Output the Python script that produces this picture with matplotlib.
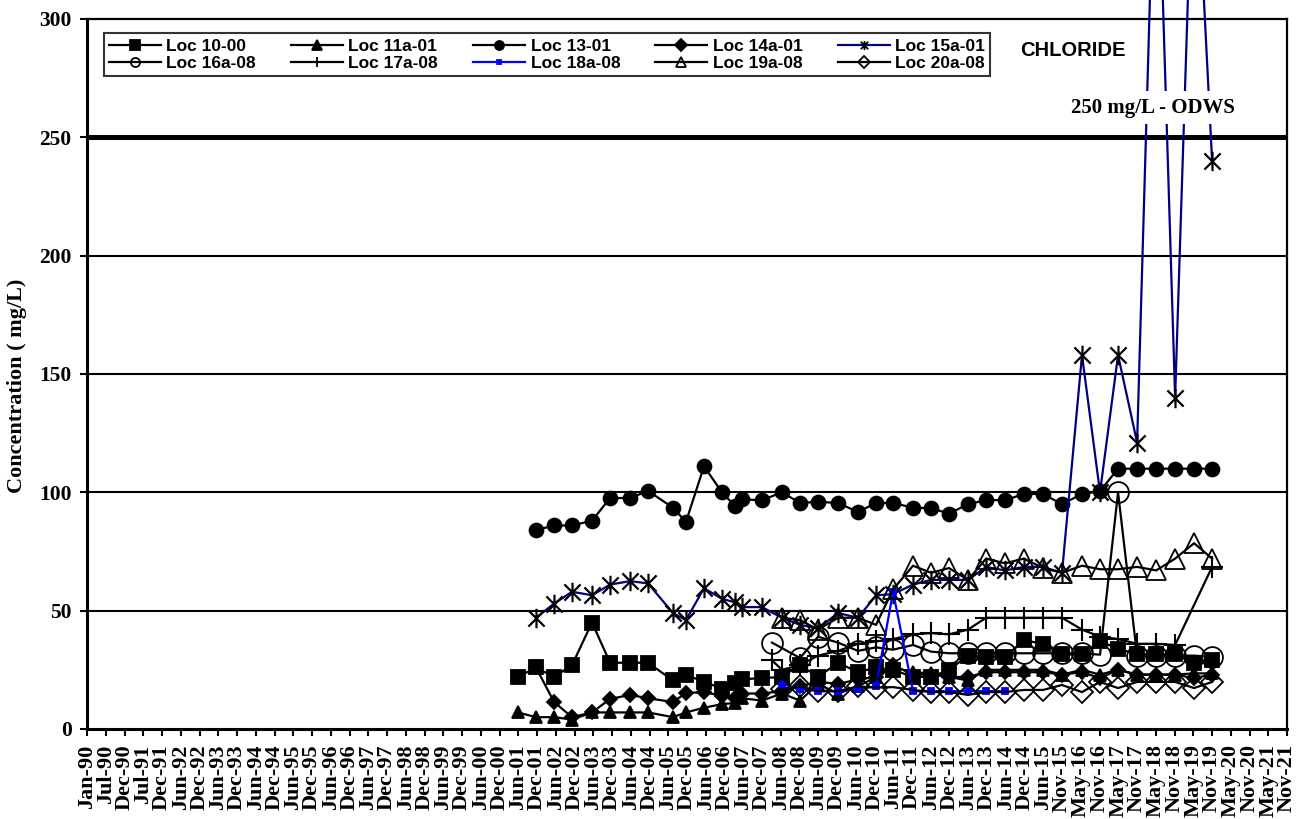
import matplotlib
matplotlib.use("Agg")
import matplotlib.pyplot as plt
import matplotlib.dates as mdates
from matplotlib.path import Path
import numpy as np
import pandas as pd

# sampling dates (shared by all wells; None = not sampled)
DATES = [
    "2001-06-15", "2001-12-07", "2002-06-01", "2002-11-22", "2003-06-04",
    "2003-11-26", "2004-06-07", "2004-11-29", "2005-07-29", "2005-12-02",
    "2006-05-26", "2006-11-17", "2007-03-23", "2007-05-30", "2007-12-10",
    "2008-03-16", "2008-06-21", "2008-12-13", "2009-06-06", "2009-12-17",
    "2010-06-29", "2010-12-21", "2011-06-04", "2011-12-15", "2012-06-07",
    "2012-11-28", "2013-06-01", "2013-11-23", "2014-05-26", "2014-11-26",
    "2015-05-30", "2015-11-30", "2016-06-11", "2016-12-03", "2017-05-27",
    "2017-11-28", "2018-06-01", "2018-12-02", "2019-06-04", "2019-11-26",
]
N = None
LOC_10_00 = [22, 26, 22, 27, 45, 28, 28, 28, 20.5, 22.8,
             20, 17, 19.5, 21, 21.5, N, 22, 27, 22, 28,
             24, 26, 25, 22, 22, 25, 31, 30.5, 30.5, 37.5,
             36, 31.5, 31.5, 37, 34, 31.5, 31.5, 31.5, 28, 29]
LOC_11A_01 = [7, 5, 5, 4, 7, 7, 7, 7, 5, 7,
              9, 10.5, 11, 13, 12, N, 15, 12, 19, 15,
              18, 22, 26, 24, 23.5, 22, 20.5, 25, 25, 25,
              25, 23, 25, 23, 25, 23, 23, 23, 23.5, 23.5]
LOC_13_01 = [N, 84, 86, 86, 88, 97.6, 97.6, 100.6, 93.5, 87.5,
             111, 100, 94.2, 97, 96.7, N, 100, 95.5, 96, 95.5,
             91.7, 95.5, 95.5, 93.5, 93.3, 91, 95, 96.7, 96.7, 99.3,
             99.3, 95, 99.3, 100.5, 110, 110, 110, 110, 110, 110]
LOC_14A_01 = [N, 26, 11.4, 5, 7, 12.7, 14.4, 13, 11.4, 15.2,
              15.6, 14, 13, 15, 15, N, 16, 18, 20, 19,
              21, 22, 27, 23, 23, 22, 22, 24, 24, 24,
              24, 23, 24, 21.5, 25, 23, 23, 23, 21.5, 23]
LOC_15A_01 = [N, 47, 53, 58, 56.5, 61, 62.5, 61.5, 49, 46,
              59.5, 55, 53.5, 51.5, 51.5, N, 47, 44, 42.5, 49,
              47, 56.5, 57, 61, 63, 63, 63, 68.5, 67, 68.5,
              68.5, 66, 158, 100, 158, 121, 400, 140, 390, 240]
LOC_16A_08 = [N] * 15 + [36.5, N, 30, 39, 36.5,
                         33, 34.5, 33.5, 35.5, 32.7, 32, 32, 32, 32, 32,
                         32, 32, 32, 31.4, 100, 31, 31, 31, 31, 30.5]
LOC_17A_08 = [N] * 15 + [29, 25, 27, 31, 33,
                         36, 37, 38, 40, 40.5, 40, 42, 47, 47, 47,
                         47, 47, 42, 39, 38, 36, 36, 35.5, N, 68.5]
LOC_18A_08 = [N] * 16 + [19, 17, 16, 16,
                         17, 18, 58, 16, 16, 16, 16, 16, 16, N,
                         N, N, N, N, N, N, N, N, N, N]
LOC_19A_08 = [N] * 16 + [47, 46, 42, 47,
                         47, 44, 59, 69, 66, 68, 63, 72, 70, 72,
                         68, 66, 69, 67.5, 67.5, 68.5, 67, 72, 78.5, 72]
LOC_20A_08 = [N] * 16 + [17, 18, 16, 16,
                         18, 17.5, 17.7, 16.5, 15.6, 15.6, 14.4, 15.6, 15.6, 16.5,
                         16.5, 18.6, 15.6, 19.9, 17.3, 19.9, 19.9, 19.9, 17.3, 19.9]

ODWS = 250
GRID = [50, 100, 150, 200]

SERIF = "Liberation Serif"
SANS = "Liberation Sans"

# Excel-style asterisk: an X with a vertical bar
STAR = Path([(-1, -1), (1, 1), (-1, 1), (1, -1), (0, -1.2), (0, 1.2)],
            [Path.MOVETO, Path.LINETO] * 3)

SERIES = [
    ("Loc 10-00", LOC_10_00, dict(color="black", marker="s", ms=10, mfc="black")),
    ("Loc 11a-01", LOC_11A_01, dict(color="black", marker="^", ms=9, mfc="black")),
    ("Loc 13-01", LOC_13_01, dict(color="black", marker="o", ms=10, mfc="black")),
    ("Loc 14a-01", LOC_14A_01, dict(color="black", marker="D", ms=7, mfc="black")),
    ("Loc 15a-01", LOC_15A_01, dict(color="#000080", marker=STAR, ms=14, mec="black",
                                    mew=1.6, clip_on=False)),
    ("Loc 16a-08", LOC_16A_08, dict(color="black", marker="o", ms=15, mfc="none")),
    ("Loc 17a-08", LOC_17A_08, dict(color="black", marker="+", ms=16, mew=1.5)),
    ("Loc 18a-08", LOC_18A_08, dict(color="#0000ff", marker="s", ms=4, mfc="#0000ff")),
    ("Loc 19a-08", LOC_19A_08, dict(color="black", marker="^", ms=15, mfc="none")),
    ("Loc 20a-08", LOC_20A_08, dict(color="black", marker="D", ms=11, mfc="none")),
]


def main():
    fig = plt.figure(figsize=(12.99, 8.19), dpi=100)
    ax = fig.add_axes([87 / 1299, 90 / 819, 1200 / 1299, 710 / 819])

    dates = pd.to_datetime(DATES)
    handles = {}
    for label, vals, style in SERIES:
        v = np.array([np.nan if x is None else x for x in vals], float)
        ok = ~np.isnan(v)
        style = dict(style)
        style.setdefault("mec", style["color"])
        style.setdefault("mew", 1.3)
        (h,) = ax.plot(dates[ok], v[ok], lw=1.6, label=label, zorder=3, **style)
        handles[label] = h

    for g in GRID:
        ax.axhline(g, color="black", lw=1.5, zorder=1)
    ax.axhline(ODWS, color="black", lw=3.6, zorder=1)

    start = pd.Timestamp("1990-01-01")
    ticks = [start + pd.Timedelta(days=182 * k) for k in range(65)]
    ax.set_xlim(ticks[0], ticks[-1])
    ax.set_ylim(0, 300)
    ax.set_xticks(ticks)
    ax.xaxis.set_major_formatter(mdates.DateFormatter("%b-%y"))
    ax.set_yticks(range(0, 301, 50))
    ax.tick_params(axis="x", direction="out", length=5, width=1.5, pad=6,
                   labelrotation=90)
    ax.tick_params(axis="y", direction="out", length=5, width=1.5, pad=6)
    for lab in ax.get_xticklabels():
        lab.set_fontfamily(SERIF)
        lab.set_fontweight("bold")
        lab.set_fontsize(16)
    for lab in ax.get_yticklabels():
        lab.set_fontfamily(SERIF)
        lab.set_fontweight("bold")
        lab.set_fontsize(15.5)
    for s in ["left", "bottom"]:
        ax.spines[s].set_linewidth(2.2)
    for s in ["top", "right"]:
        ax.spines[s].set_linewidth(1.6)

    ax.set_ylabel("Concentration ( mg/L)", fontfamily=SERIF, fontweight="bold",
                  fontsize=16)
    ax.yaxis.set_label_coords(-0.05, 0.484)

    ax.text(0.7775, 0.956, "CHLORIDE", transform=ax.transAxes, fontfamily=SANS,
            fontweight="bold", fontsize=14.5, ha="left", va="center", zorder=6)
    ax.text(0.8885, 262.5, "250 mg/L - ODWS", transform=ax.get_yaxis_transform(),
            fontfamily=SERIF, fontweight="bold", fontsize=15, ha="center",
            va="center", zorder=6,
            bbox=dict(boxstyle="square,pad=0.3", fc="white", ec="none"))

    order = ["Loc 10-00", "Loc 16a-08", "Loc 11a-01", "Loc 17a-08", "Loc 13-01",
             "Loc 18a-08", "Loc 14a-01", "Loc 19a-08", "Loc 15a-01", "Loc 20a-08"]
    leg = ax.legend([handles[k] for k in order], order, ncol=5, mode="expand",
                    loc="lower left", bbox_to_anchor=(0.014, 0.920, 0.7385, 0.064),
                    prop=dict(family=SANS, weight="bold", size=12.5),
                    frameon=True, fancybox=False, edgecolor="black",
                    handlelength=3.0, handletextpad=0.3, labelspacing=0.1,
                    borderpad=0.3, borderaxespad=0,
                    columnspacing=0.5)
    leg.get_frame().set_linewidth(1.5)
    leg.set_zorder(7)
    # legend keys use small, uniform markers like the spreadsheet legend
    for lh, name in zip(leg.legend_handles, order):
        lh.set_markersize(3.5 if name == "Loc 18a-08" else 6.5)
        lh.set_markeredgewidth(1.3)

    fig.savefig("out.png", dpi=100)


if __name__ == "__main__":
    main()
